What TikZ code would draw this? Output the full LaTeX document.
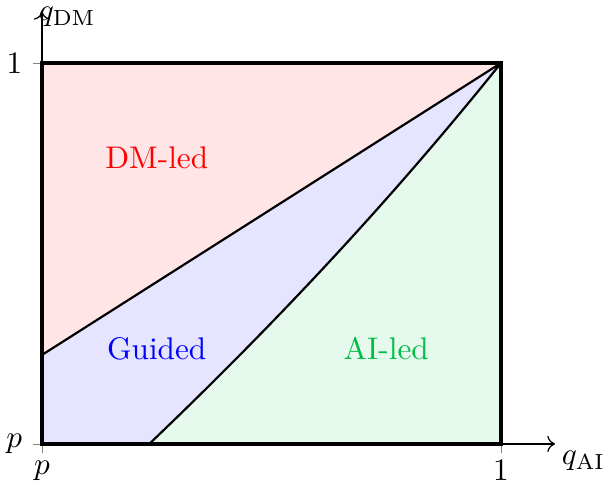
\documentclass[tikz,border=0pt]{standalone}
\usepackage{amsmath}
\usepackage{tikz}
\usetikzlibrary{arrows.meta,calc}
\definecolor{aigreen}{RGB}{0,190,70}
\tikzset{
  ax/.style={->, thin},
  tk/.style={very thin, gray},
  frame/.style={draw, line width=1.4pt},
  bound/.style={draw, line width=0.7pt},
  zone/.style={font=\normalsize}
}
\begin{document}
\begin{tikzpicture}[x=146.9pt, y=121.9pt]
\useasboundingbox (-0.0915,-0.1024) rectangle (1.2222,1.1654);
\coordinate (O) at (0,0);
\coordinate (T) at (1,1);
\coordinate (TL) at (0,1);
\coordinate (BR) at (1,0);
\coordinate (L) at (0,0.2336);
\coordinate (B) at (0.2338,0);
\coordinate (c1) at (0.489,0.294);
\coordinate (c2) at (0.745,0.617);
% regions
\fill[red!10] (L) -- (TL) -- (T) -- cycle;
\fill[blue!10] (O) -- (L) -- (T) .. controls (c2) and (c1) .. (B) -- cycle;
\fill[aigreen!10] (B) .. controls (c1) and (c2) .. (T) -- (BR) -- cycle;
% ticks
\draw[tk] (O) -- ++(0,-0.1cm) (O) -- ++(-0.1cm,0);
\draw[tk] (BR) -- ++(0,-0.1cm) (TL) -- ++(-0.1cm,0);
% axes
\draw[ax] (O) -- (1.1176,0) node[below right, inner sep=2pt] (xl) {$q_{\text{AI}}$};
\draw[ax] (O) -- (0,1.134) node[anchor=west, xshift=-4.5pt, yshift=-1.5pt] (yl) {$q_{\text{DM}}$};
% boundaries
\draw[bound] (L) -- (T);
\draw[bound] (B) .. controls (c1) and (c2) .. (T);
\draw[frame] (O) rectangle (T);
% tick labels
\node[left=2.8pt] (p1) at (O) {$p$};
\node[below=1.8pt] (p2) at (O) {$p$};
\node[left=2.8pt] (one1) at (TL) {$1$};
\node[below=1.8pt] (one2) at (BR) {$1$};
% zone labels
\node[zone, text=red] (dm) at (0.25,0.75) {DM-led};
\node[zone, text=blue] (gd) at (0.25,0.25) {Guided};
\node[zone, text=aigreen] (ai) at (0.75,0.25) {AI-led};
\end{tikzpicture}
\end{document}
